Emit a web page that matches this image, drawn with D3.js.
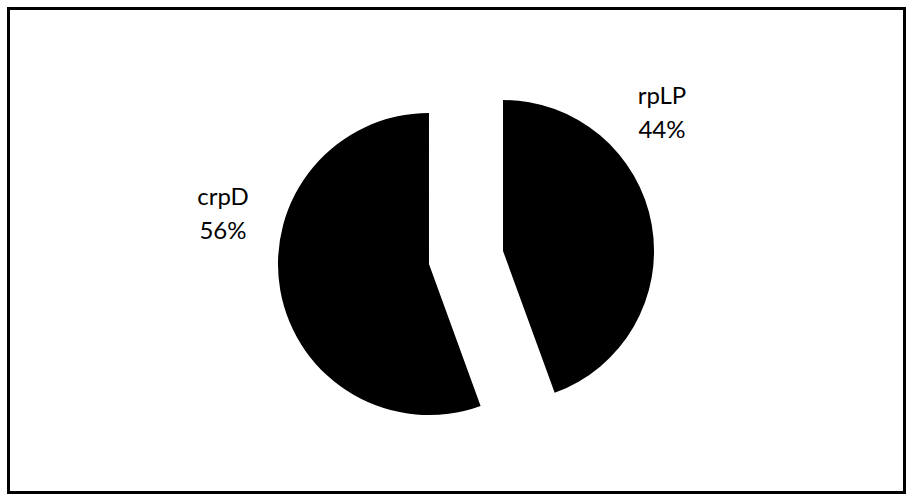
<!DOCTYPE html>
<html><head><meta charset="utf-8">
<script src="https://cdn.jsdelivr.net/npm/d3@7"></script>
<style>body{margin:0;background:#fff}svg{display:block}</style>
</head><body>
<script>
const categories = ["rpLP", "crpD"];
const values = [4, 5];
const percentLabels = ["44%", "56%"];

const W = 915, H = 501;
const svg = d3.select("body").append("svg").attr("width", W).attr("height", H);
svg.append("rect").attr("x", 8.5).attr("y", 8.5).attr("width", 896).attr("height", 484)
  .attr("fill", "#fff").attr("stroke", "#000").attr("stroke-width", 3);

const cx = 466, cy = 257.5, R = 151, explode = 37.6;
const pie = d3.pie().sort(null).value(d => d);
const arcs = pie(values);
const arc = d3.arc().innerRadius(0).outerRadius(R);

const labelPos = [[662, 104], [223, 204.5]];
const g = svg.append("g").attr("transform", `translate(${cx},${cy})`);
arcs.forEach((a, i) => {
  const mid = (a.startAngle + a.endAngle) / 2;
  const dx = Math.sin(mid) * explode, dy = -Math.cos(mid) * explode;
  g.append("path").attr("d", arc(a)).attr("fill", "#000")
    .attr("transform", `translate(${dx},${dy})`);
  const t = svg.append("text").attr("x", labelPos[i][0]).attr("y", labelPos[i][1])
    .attr("text-anchor", "middle").attr("font-family", "Lato, 'Open Sans', sans-serif")
    .attr("font-size", 24).attr("fill", "#000");
  t.append("tspan").attr("x", labelPos[i][0]).text(categories[i]);
  t.append("tspan").attr("x", labelPos[i][0]).attr("dy", 34).text(percentLabels[i]);
});
</script>
</body></html>
